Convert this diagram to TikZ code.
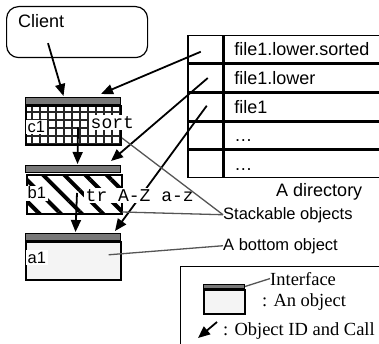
\documentclass[tikz,border=0pt]{standalone}
\usepackage{fontspec}
\setmainfont{Liberation Sans}
\setmonofont{Liberation Mono}
\newfontfamily\legendfont{Liberation Serif}
\usetikzlibrary{arrows.meta,calc,patterns.meta}
\definecolor{cBar}{HTML}{787878}
\definecolor{cBody}{HTML}{F4F4F4}
\definecolor{cLead}{HTML}{555555}

\begin{document}
\begin{tikzpicture}[
  x=1pt,y=-1pt,
  cbox/.style={rectangle,rounded corners=12pt,draw=black,line width=1.2pt,anchor=north west,
              minimum width=141pt,minimum height=51pt,inner sep=0pt},
  ibar/.style={rectangle,draw=black,line width=1pt,fill=cBar,anchor=north west,
              minimum width=95pt,minimum height=7pt,inner sep=0pt},
  obody/.style={rectangle,draw=black,line width=1.6pt,anchor=north west,
              minimum width=95pt,minimum height=#1,inner sep=0pt},
  otag/.style={fill=white,inner sep=1.5pt,anchor=base west,font=\rmfamily\fontsize{16.5}{18}\selectfont},
  ocmd/.style={fill=white,inner sep=1.5pt,anchor=base west,font=\ttfamily\fontsize{18}{20}\selectfont},
  kcell/.style={rectangle,draw=black,line width=1.5pt,anchor=north west,
              minimum width=35pt,minimum height=27.2pt,inner sep=0pt},
  ncell/.style={rectangle,draw=black,line width=1.5pt,anchor=north west,minimum width=156pt,
              minimum height=27.2pt,inner sep=0pt,text width=136pt,align=left,
              text height=13pt,text depth=0pt,font=\rmfamily\fontsize{18}{20}\selectfont},
  note/.style={anchor=base west,inner sep=0pt,font=\rmfamily\fontsize{16.5}{18}\selectfont},
  legtxt/.style={anchor=base west,inner sep=0pt,font=\legendfont\fontsize{18.5}{20}\selectfont},
  ar/.style={-{Triangle[length=12pt,width=10pt]},line width=1.8pt,draw=black},
  lead/.style={draw=cLead,line width=1.3pt}
]
\useasboundingbox (0,0) rectangle (379,344);
\clip (0,0) rectangle (379,344);

%======================= CLIENT =======================
\node[cbox] (client) at (6,6) {};
\node[anchor=base west,inner sep=0pt,font=\rmfamily\fontsize{18}{20}\selectfont] (clientlbl)
  at ($(client.north west)+(12,22)$) {Client};

%======================= OBJECT STACK =======================
\node[ibar] (c1bar) at (25,97) {};
\node[obody=39pt,pattern={Hatch[distance=8pt,line width=2pt]},pattern color=black!85]
  (c1body) at (c1bar.south west) {};
\node[ibar] (b1bar) at (25,165) {};
\node[obody=39pt,pattern={Lines[angle=-45,distance=15pt,line width=4pt]},pattern color=black]
  (b1body) at (b1bar.south west) {};
\node[ibar] (a1bar) at (25,233) {};
\node[obody=38pt,fill=cBody] (a1body) at (a1bar.south west) {};

%======================= DIRECTORY =======================
\node[kcell] (k1) at (187,35) {};
\node[ncell] (n1) at (k1.north east) {file1.lower.sorted};
\node[kcell] (k2) at (k1.south west) {};
\node[ncell] (n2) at (k2.north east) {file1.lower};
\node[kcell] (k3) at (k2.south west) {};
\node[ncell] (n3) at (k3.north east) {file1};
\node[kcell] (k4) at (k3.south west) {};
\node[ncell] (n4) at (k4.north east) {…};
\node[kcell] (k5) at (k4.south west) {};
\node[ncell] (n5) at (k5.north east) {…};
\node[anchor=base,inner sep=0pt,font=\rmfamily\fontsize{18}{20}\selectfont] (dirlbl)
  at ($(n5.south)+(17,18.5)$) {A directory};

%======================= CALLS =======================
\draw[ar] ($(client.south west)+(42,-15)$) -- ($(c1bar.north)+(-9.5,-1)$);
\draw[ar] ($(c1body.center)+(4.5,2)$) -- ($(b1bar.north)+(4.5,-1)$);
\draw[ar] ($(b1body.center)+(2.5,-1.5)$) -- ($(a1bar.north)+(2.5,-1)$);
\draw[ar] ($(k1.center)+(-4.5,2.4)$) -- ($(c1bar.north east)+(-20,-3)$);
\draw[ar] ($(k2.center)+(2.5,0)$) -- ($(b1bar.north east)+(-10,-4)$);
\draw[ar] ($(k3.center)+(1.5,-1)$) -- ($(a1bar.north east)+(-6,-2)$);

%======================= OBJECT LABELS =======================
\node[otag] (c1) at ($(c1body.west)+(1,7)$) {c1};
\node[ocmd] (sort) at ($(c1body.west)+(64,3)$) {sort};
\node[otag] (b1) at ($(b1body.west)+(1,4.5)$) {b1};
\node[ocmd] (tr) at ($(b1body.west)+(59,6.5)$) {tr A-Z a-z};
\node[otag] (a1) at ($(a1body.west)+(1,2.5)$) {a1};

%======================= NOTES =======================
\node[note] (stack) at (223,219) {Stackable objects};
\node[note] (bottom) at (223,250) {A bottom object};
\draw[lead] ($(c1body.south east)+(0,-8)$) -- (stack.west);
\draw[lead] ($(b1body.south east)+(-2,-4)$) -- (stack.west);
\draw[lead] ($(a1body.east)+(-13,-6)$) -- (bottom.west);

%======================= LEGEND =======================
\node[draw=black,line width=1.2pt,anchor=north west,minimum width=220pt,minimum height=100pt]
  (legend) at (180,266) {};
\node[ibar,minimum width=41pt,minimum height=4pt] (lgbar) at (203,284) {};
\node[obody=24pt,minimum width=41pt,fill=cBody] (lgbody) at (lgbar.south west) {};
\node[legtxt] (iface) at (270,285) {Interface};
\node[legtxt] (anobj) at (262,306) {: An object};
\node[legtxt] (idcall) at (223,335) {: Object ID and Call};
\draw[lead] (lgbar.east) -- (iface.west);
\coordinate (lgtail) at (217,322);
\coordinate (lghead) at (198,338);
\draw[ar] (lgtail) -- (lghead);

\end{tikzpicture}
\end{document}
